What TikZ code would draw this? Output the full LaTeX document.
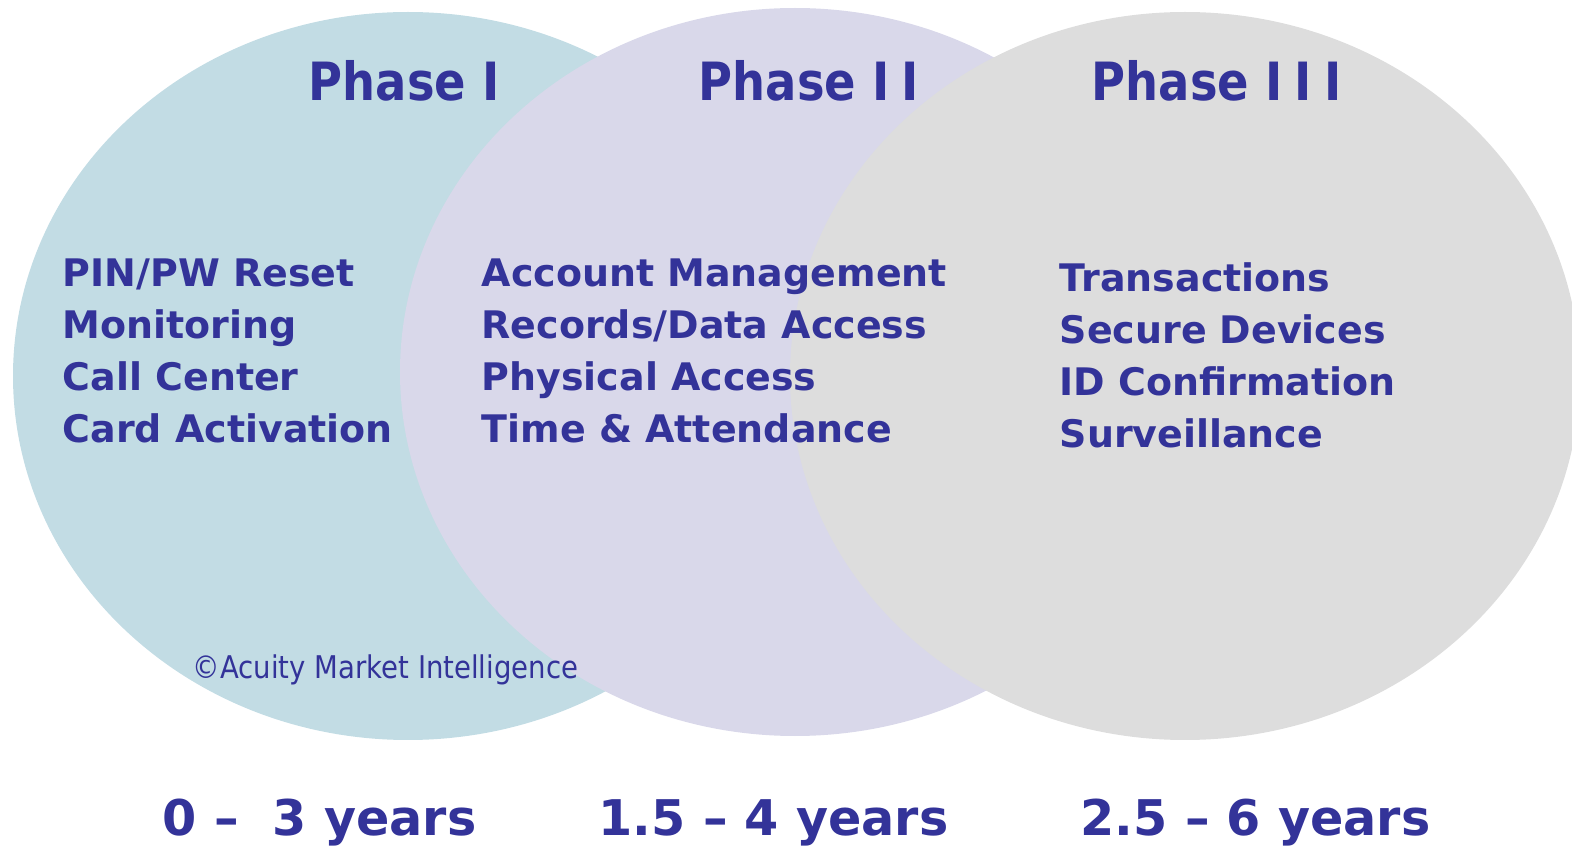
\documentclass[tikz,border=0pt]{standalone}
\usepackage{fontspec}
\setmainfont{DejaVu Sans}
\newfontfamily\narrowfont[FakeStretch=0.88]{DejaVu Sans}
\definecolor{phaseblue}{RGB}{51,51,153}
\definecolor{oneblue}{HTML}{C2DCE4}
\definecolor{twolilac}{HTML}{D9D8EA}
\definecolor{threegray}{HTML}{DDDDDD}
\newcommand{\romgap}{\kern3.5pt}
\tikzset{
	phasetitle/.style={text=phaseblue,inner sep=0pt,anchor=base west,font=\narrowfont\bfseries\fontsize{15}{18}\selectfont},
	item/.style={text=phaseblue,inner sep=0pt,anchor=base west,font=\bfseries\fontsize{10.8}{13}\selectfont},
	timespan/.style={text=phaseblue,inner sep=0pt,anchor=base west,font=\bfseries\fontsize{14}{17}\selectfont},
	credit/.style={text=phaseblue,inner sep=0pt,anchor=base west,font=\narrowfont\fontsize{8.9}{11}\selectfont}
}
\begin{document}
\begin{tikzpicture}
			\useasboundingbox (0,0) rectangle (15.72,8.48);
			\clip (0,0) rectangle (15.72,8.48);
			% the three phases
			\fill[oneblue] (4.08,4.72) ellipse [x radius=3.95,y radius=3.64];
			\fill[twolilac] (7.95,4.76) ellipse [x radius=3.95,y radius=3.64];
			\fill[threegray] (11.85,4.72) ellipse [x radius=3.95,y radius=3.64];
			\node[phasetitle] (title1) at (3.08,7.47) {Phase I};
			\node[phasetitle] (title2) at (6.98,7.47) {Phase I\romgap I};
			\node[phasetitle] (title3) at (10.91,7.47) {Phase I\romgap I\romgap I};
			\foreach \txt [count=\i] in {PIN/PW Reset,Monitoring,Call Center,Card Activation}
				\node[item] (one-\i) at (0.62,{5.61-(\i-1)*0.517}) {\txt};
			\foreach \txt [count=\i] in {Account Management,Records/Data Access,Physical Access,Time \& Attendance}
				\node[item] (two-\i) at (4.81,{5.61-(\i-1)*0.517}) {\txt};
			\foreach \txt [count=\i] in {Transactions,Secure Devices,ID Confirmation,Surveillance}
				\node[item] (three-\i) at (10.59,{5.56-(\i-1)*0.517}) {\txt};
			\node[credit] (credit) at (1.92,1.70) {©Acuity Market Intelligence};
			% durations
			\node[timespan] (span1) at (1.62,0.13) {0 – \ 3 years};
			\node[timespan] (span2) at (5.98,0.13) {1.5 – 4 years};
			\node[timespan] (span3) at (10.80,0.13) {2.5 – 6 years};
		\end{tikzpicture}
\end{document}
